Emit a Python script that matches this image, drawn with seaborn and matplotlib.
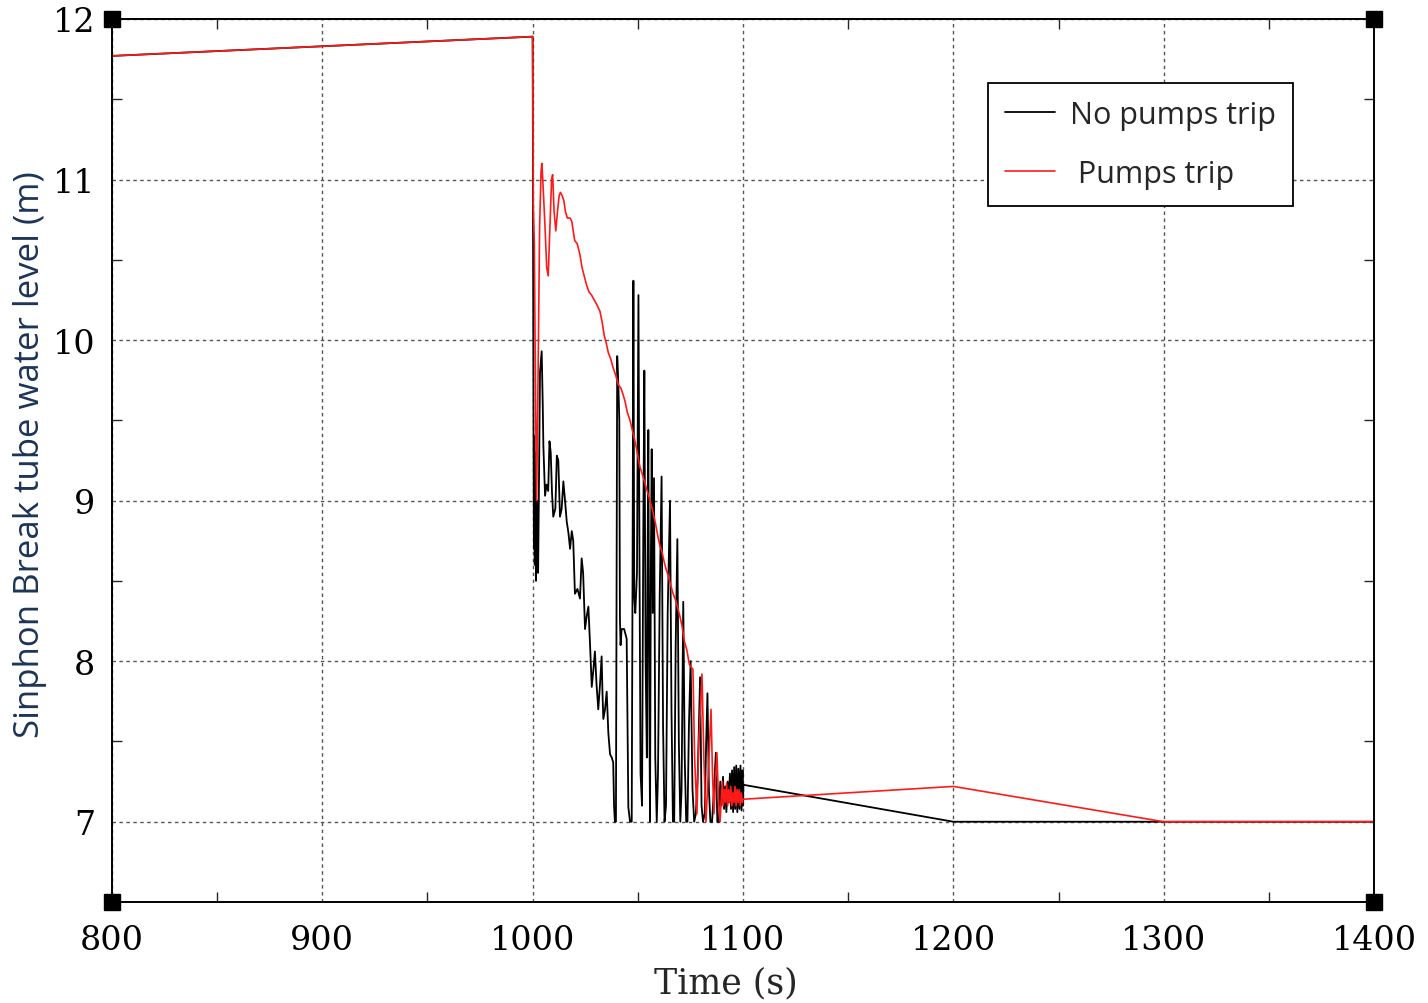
import numpy as np
import pandas as pd
import matplotlib
matplotlib.use("Agg")
import matplotlib.pyplot as plt
import seaborn as sns

# ---------------- data ----------------
black_t = [800.0, 1000.0, 1000.2, 1000.4, 1000.6, 1000.8, 1001.0, 1001.3, 1001.6, 1002.2, 1002.6,
           1003.5, 1004.3, 1004.8, 1005.1, 1005.9, 1006.6, 1007.4, 1008.0, 1008.6, 1009.2, 1009.8,
           1010.8, 1011.5, 1012.2, 1013.0, 1013.8, 1014.6, 1015.4, 1016.2, 1017.0, 1017.8, 1018.6,
           1019.3, 1020.1, 1021.3, 1022.5, 1023.3, 1024.0, 1024.9, 1025.7, 1026.5, 1027.3, 1028.1,
           1028.9, 1029.6, 1030.4, 1031.2, 1032.0, 1032.8, 1033.2, 1033.6, 1034.4, 1035.2, 1036.0,
           1036.8, 1037.6, 1038.3, 1038.7, 1039.1, 1039.6, 1039.9, 1040.2, 1040.8, 1041.2, 1041.5,
           1041.8, 1042.3, 1043.5, 1044.7, 1045.5, 1046.3, 1047.1, 1047.5, 1047.9, 1048.3, 1048.8,
           1049.6, 1050.3, 1050.8, 1051.3, 1052.0, 1052.6, 1053.1, 1053.7, 1054.3, 1054.6, 1055.0,
           1055.4, 1055.8, 1056.2, 1056.6, 1057.1, 1057.7, 1058.3, 1059.0, 1059.6, 1060.4, 1061.3,
           1062.0, 1062.7, 1063.4, 1064.2, 1065.3, 1066.0, 1066.7, 1067.3, 1068.0, 1068.8, 1069.5,
           1070.2, 1070.8, 1071.6, 1072.3, 1073.0, 1073.6, 1074.3, 1075.1, 1076.0, 1076.8, 1077.6,
           1078.5, 1079.6, 1080.3, 1081.0, 1081.8, 1082.5, 1083.1, 1083.8, 1084.5, 1085.3, 1086.2,
           1087.1, 1087.8, 1088.6, 1089.2, 1089.8, 1090.5, 1091.0, 1091.6, 1092.1, 1092.7, 1093.2,
           1093.8, 1094.3, 1094.8, 1095.3, 1095.8, 1096.3, 1096.8, 1097.3, 1097.8, 1098.3, 1098.8,
           1099.3, 1099.8, 1100.0, 1100.2, 1200.0, 1300.0, 1400.0]
black_level = [11.77, 11.89, 10.70, 9.50, 8.70, 9.40, 8.60, 9.30, 8.50, 9.00, 8.55,
               9.80, 9.93, 9.60, 9.34, 9.03, 9.10, 9.06, 9.37, 9.30, 9.05, 8.90,
               8.95, 9.28, 9.25, 8.90, 8.95, 9.12, 9.00, 8.87, 8.80, 8.70, 8.81,
               8.75, 8.42, 8.45, 8.39, 8.64, 8.55, 8.20, 8.28, 8.34, 8.10, 7.84,
               7.95, 8.06, 7.85, 7.70, 7.85, 8.03, 7.80, 7.64, 7.70, 7.81, 7.55,
               7.42, 7.40, 7.37, 7.10, 7.00, 7.00, 8.45, 9.90, 9.70, 9.50, 8.26,
               8.10, 8.20, 8.20, 8.14, 7.09, 7.00, 7.00, 8.55, 10.37, 8.40, 8.30,
               8.55, 10.28, 8.60, 7.30, 7.10, 8.80, 9.81, 8.00, 7.40, 8.50, 9.44,
               7.90, 7.00, 8.60, 9.32, 8.30, 9.14, 7.40, 7.00, 7.30, 8.40, 9.15,
               7.60, 7.00, 7.10, 8.30, 9.00, 7.70, 7.00, 7.00, 8.10, 8.76, 7.50,
               7.00, 7.20, 8.37, 7.40, 7.00, 7.00, 7.60, 8.00, 7.20, 7.00, 7.05,
               7.30, 7.90, 7.10, 7.00, 7.05, 7.50, 7.80, 7.20, 7.00, 7.00, 7.20,
               7.43, 7.00, 7.00, 7.25, 7.10, 7.28, 7.08, 7.22, 7.06, 7.25, 7.12,
               7.30, 7.08, 7.32, 7.06, 7.34, 7.08, 7.35, 7.06, 7.33, 7.08, 7.35,
               7.07, 7.32, 7.10, 7.23, 7.00, 7.00, 7.00]

red_t = [800.0, 1000.0, 1000.3, 1000.8, 1001.4, 1001.9, 1002.6, 1003.3, 1004.0, 1004.4, 1005.0,
         1005.9, 1006.7, 1007.4, 1008.2, 1009.0, 1009.5, 1010.2, 1011.0, 1011.8, 1012.6, 1013.2,
         1014.0, 1014.8, 1015.6, 1016.5, 1017.8, 1018.6, 1019.3, 1020.0, 1021.2, 1022.5, 1023.5,
         1024.5, 1025.7, 1026.8, 1028.0, 1029.3, 1030.5, 1032.0, 1033.2, 1034.0, 1035.0, 1036.0,
         1037.2, 1038.2, 1039.5, 1040.8, 1042.0, 1043.0, 1043.9, 1045.0, 1046.3, 1047.7, 1049.0,
         1050.0, 1051.0, 1052.5, 1054.0, 1055.8, 1057.0, 1058.5, 1059.5, 1060.5, 1061.5, 1062.5,
         1063.5, 1064.3, 1065.5, 1066.8, 1068.0, 1069.0, 1070.0, 1071.0, 1072.2, 1073.3, 1074.5,
         1075.5, 1076.2, 1077.0, 1078.1, 1079.0, 1080.5, 1081.4, 1082.4, 1083.5, 1084.8, 1085.5,
         1086.2, 1086.9, 1087.6, 1088.3, 1089.1, 1089.7, 1090.2, 1090.7, 1091.2, 1091.7, 1092.2,
         1092.7, 1093.2, 1093.7, 1094.2, 1094.7, 1095.2, 1095.7, 1096.2, 1096.7, 1097.2, 1097.7,
         1098.2, 1098.7, 1099.2, 1099.7, 1100.0, 1200.0, 1300.0, 1400.0]
red_level = [11.77, 11.89, 10.85, 10.60, 9.60, 9.00, 9.80, 10.70, 11.05, 11.10, 10.95,
             10.70, 10.45, 10.40, 10.70, 11.00, 11.03, 10.80, 10.68, 10.80, 10.90, 10.92,
             10.90, 10.87, 10.80, 10.76, 10.76, 10.74, 10.68, 10.62, 10.60, 10.53, 10.45,
             10.40, 10.34, 10.30, 10.28, 10.25, 10.22, 10.18, 10.10, 10.03, 9.98, 9.92,
             9.88, 9.83, 9.78, 9.72, 9.70, 9.66, 9.62, 9.55, 9.50, 9.42, 9.35,
             9.28, 9.21, 9.15, 9.08, 9.00, 8.94, 8.85, 8.78, 8.72, 8.68, 8.62,
             8.57, 8.54, 8.48, 8.42, 8.38, 8.33, 8.28, 8.22, 8.12, 8.07, 7.98,
             7.96, 7.95, 7.40, 7.05, 7.50, 7.92, 7.40, 7.00, 7.30, 7.70, 7.30,
             7.05, 7.25, 7.43, 7.15, 7.00, 7.15, 7.25, 7.10, 7.20, 7.12, 7.24,
             7.10, 7.20, 7.12, 7.22, 7.10, 7.18, 7.12, 7.22, 7.10, 7.20, 7.12,
             7.20, 7.10, 7.18, 7.12, 7.14, 7.22, 7.00, 7.00]

series_labels = ["No pumps trip", " Pumps trip"]
x_ticks = [800, 900, 1000, 1100, 1200, 1300, 1400]
y_ticks = [7, 8, 9, 10, 11, 12]
x_label = "Time (s)"
y_label = "Sinphon Break tube water level (m)"

# ---------------- style ----------------
sns.set_style("white")
plt.rcParams["font.family"] = ["DejaVu Serif"]

fig = plt.figure(figsize=(14.28, 10.04), dpi=100)
ax = fig.add_axes([0.0784, 0.1006, 0.9622 - 0.0784, 0.9801 - 0.1006])

df_black = pd.DataFrame({"t": black_t, "level": black_level})
df_red = pd.DataFrame({"t": red_t, "level": red_level})

sns.lineplot(data=df_black, x="t", y="level", ax=ax, color="black", lw=1.3,
             sort=False, estimator=None, label=series_labels[0])
sns.lineplot(data=df_red, x="t", y="level", ax=ax, color="#ff1a1a", lw=1.2,
             sort=False, estimator=None, label=series_labels[1])

ax.set_xlim(800, 1400)
ax.set_ylim(6.5, 12)
ax.set_xticks(x_ticks)
ax.set_yticks(y_ticks)
ax.set_xticks(np.arange(850, 1400, 100), minor=True)
ax.set_yticks(np.arange(7.5, 12, 1.0), minor=True)
ax.tick_params(axis="x", which="major", length=0, labelsize=24, pad=16, colors="black")
ax.tick_params(axis="y", which="major", length=0, labelsize=24, pad=12, colors="black")
ax.tick_params(axis="both", which="minor", length=7, width=1.0, direction="in",
               top=True, right=True, bottom=True, left=True)

ax.grid(True, which="major", color="#555555", linestyle=(0, (2.5, 2.5)), linewidth=1.0)

for s in ax.spines.values():
    s.set_color("black")
    s.set_linewidth(1.4)

ax.set_xlabel(x_label, fontsize=25, fontfamily="DejaVu Serif")
ax.xaxis.set_label_coords((726 - 112) / 1262, -(983 - 903) / 883, transform=ax.transAxes)
ax.xaxis.label.set_va("center")
ax.set_ylabel(y_label, fontsize=25, fontfamily="Open Sans", color="#1c3557")
ax.yaxis.set_label_coords(-(112 - 30) / 1262, (903 - 455) / 883, transform=ax.transAxes)
ax.yaxis.label.set_va("center")

# corner squares
for cx, cy in [(0, 0), (1, 0), (0, 1), (1, 1)]:
    ax.plot([cx], [cy], marker="s", markersize=12, color="black", transform=ax.transAxes,
            clip_on=False, zorder=10)

leg = ax.legend(loc="upper right", bbox_to_anchor=((1293 - 112) / 1262, (903 - 84) / 883),
                frameon=True, fancybox=False, edgecolor="black", handlelength=1.65,
                handletextpad=0.5, borderpad=0.55, labelspacing=0.95, borderaxespad=0.0,
                prop={"family": "Open Sans", "size": 22})
leg.get_frame().set_linewidth(1.3)
leg.get_frame().set_alpha(1)

fig.savefig("out.png", dpi=100, facecolor="white")
